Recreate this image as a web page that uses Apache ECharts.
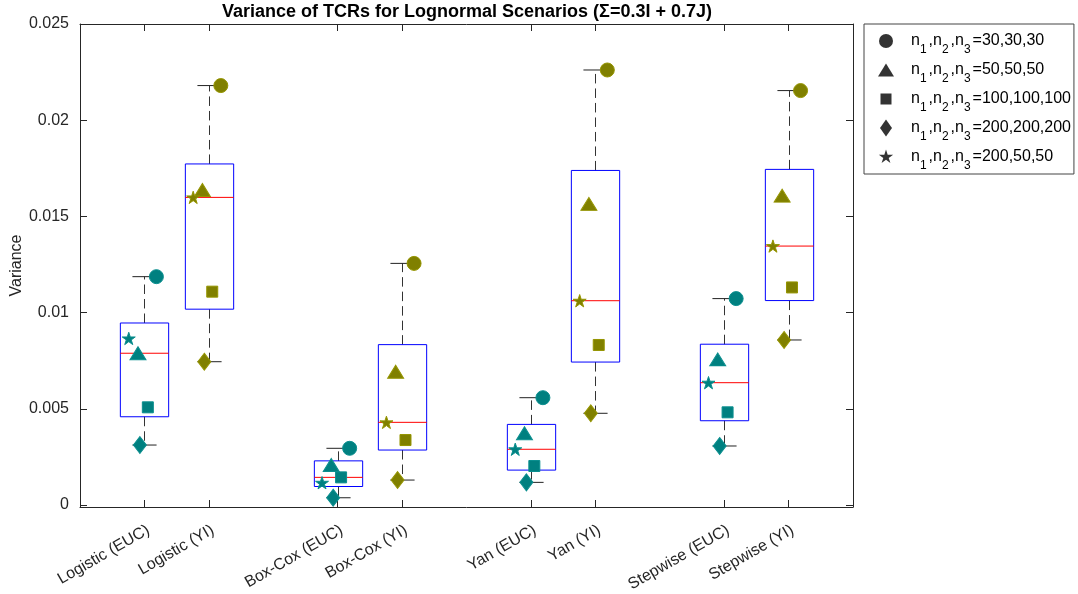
<!DOCTYPE html>
<html>
<head>
<meta charset="utf-8">
<title>Variance of TCRs</title>
<script src="https://cdn.jsdelivr.net/npm/echarts@6/dist/echarts.min.js"></script>
<style>
    html, body { margin: 0; padding: 0; background: #fff; }
    #main { width: 1078px; height: 594px; }
</style>
</head>
<body>
<div id="main"></div>
<script>
var categories = ['Logistic (EUC)', 'Logistic (YI)', 'Box-Cox (EUC)', 'Box-Cox (YI)',
    'Yan (EUC)', 'Yan (YI)', 'Stepwise (EUC)', 'Stepwise (YI)'];
var groupPos = [1, 2, 4, 5, 7, 8, 10, 11];
var yTicks = [0, 0.005, 0.01, 0.015, 0.02, 0.025];

// variance per method, one array per sample-size scenario
var n30 = [0.01187, 0.02180, 0.00295, 0.01256, 0.00558, 0.02261, 0.01073, 0.02154];
var n50 = [0.00789, 0.01637, 0.00208, 0.00693, 0.00373, 0.01565, 0.00757, 0.01608];
var n100 = [0.00508, 0.01109, 0.00144, 0.00338, 0.00203, 0.00832, 0.00482, 0.01131];
var n200 = [0.00312, 0.00745, 0.00038, 0.00130, 0.00118, 0.00477, 0.00307, 0.00858];
var n200x50 = [0.00866, 0.01599, 0.00116, 0.00430, 0.00290, 0.01062, 0.00636, 0.01346];

var scenarioLabels = ['30,30,30', '50,50,50', '100,100,100', '200,200,200', '200,50,50'];
var scenarioValues = [n30, n50, n100, n200, n200x50];

var chartDom = document.getElementById('main');
var myChart = echarts.init(chartDom);
var option;

var FONT = 'Liberation Sans, Arial, Helvetica, sans-serif';
var tealColor = '#008080';
var oliveColor = '#808000';

// marker look, in scenario order
var symbols = ['circle', 'triangle', 'rect', 'diamond',
    'path://M50 0 L61.17 34.63 L97.55 34.55 L68.07 55.87 L79.39 90.45 L50 69 L20.61 90.45 L31.93 55.87 L2.45 34.55 L38.83 34.63 Z'];
var symbolSizes = [14, [16, 13], 11, [13, 17], 13];
var xOffsets = [0.186, -0.10, 0.053, -0.07, -0.243];
var legendIcons = [
    'path://M0 0 M16 18 M1 9 A7 7 0 1 0 15 9 A7 7 0 1 0 1 9 Z',
    'path://M0 0 M16 18 M8 2.5 L16 15.5 L0 15.5 Z',
    'path://M0 0 M16 18 M2.5 3.5 L13.5 3.5 L13.5 14.5 L2.5 14.5 Z',
    'path://M0 0 M16 18 M8 0.5 L14 9 L8 17.5 L2 9 Z',
    'path://M0 0 M16 18 M8 1.5 L9.68 6.7 L15.13 6.68 L10.71 9.88 L12.41 15.07 L8 11.85 L3.59 15.07 L5.29 9.88 L0.87 6.68 L6.32 6.7 Z'
];

// MATLAB-style percentile on sorted values
function prctile(sorted, p) {
    var n = sorted.length;
    var r = p * n + 0.5;
    if (r <= 1) return sorted[0];
    if (r >= n) return sorted[n - 1];
    var lo = Math.floor(r);
    return sorted[lo - 1] + (r - lo) * (sorted[lo] - sorted[lo - 1]);
}

var boxData = groupPos.map(function (pos, i) {
    var vals = scenarioValues.map(function (arr) { return arr[i]; }).sort(function (a, b) { return a - b; });
    return [pos, vals[0], prctile(vals, 0.25), prctile(vals, 0.5), prctile(vals, 0.75), vals[vals.length - 1]];
});

function renderBox(params, api) {
    var x = api.value(0);
    var lo = api.coord([x, api.value(1)]);
    var q1 = api.coord([x, api.value(2)]);
    var md = api.coord([x, api.value(3)]);
    var q3 = api.coord([x, api.value(4)]);
    var hi = api.coord([x, api.value(5)]);
    var halfW = api.size([0.75, 0])[0] / 2;
    var capW = halfW / 2;
    var cx = Math.round(lo[0]) + 0.5;
    var dashStyle = { stroke: '#333', lineWidth: 1, lineDash: [9.5, 5] };
    var capStyle = { stroke: '#222', lineWidth: 1 };
    return {
        type: 'group',
        children: [
            { type: 'line', shape: { x1: cx, y1: q3[1], x2: cx, y2: hi[1] }, style: dashStyle },
            { type: 'line', shape: { x1: cx, y1: q1[1], x2: cx, y2: lo[1] }, style: dashStyle },
            { type: 'line', shape: { x1: cx - capW, y1: hi[1], x2: cx + capW, y2: hi[1] }, style: capStyle },
            { type: 'line', shape: { x1: cx - capW, y1: lo[1], x2: cx + capW, y2: lo[1] }, style: capStyle },
            { type: 'rect', shape: { x: cx - halfW, y: q3[1], width: 2 * halfW, height: q1[1] - q3[1] },
              style: { fill: 'none', stroke: '#0000ff', lineWidth: 1 } },
            { type: 'line', shape: { x1: cx - halfW, y1: md[1], x2: cx + halfW, y2: md[1] },
              style: { stroke: '#ff0000', lineWidth: 1 } }
        ]
    };
}

var seriesList = [{
    type: 'custom',
    name: 'box',
    renderItem: renderBox,
    data: boxData,
    encode: { x: 0, y: [1, 2, 3, 4, 5] },
    silent: true,
    z: 1
}];

scenarioValues.forEach(function (vals, k) {
    seriesList.push({
        type: 'scatter',
        name: 'n1,n2,n3=' + scenarioLabels[k],
        symbol: symbols[k],
        symbolSize: symbolSizes[k],
        symbolKeepAspect: true,
        z: 3,
        data: vals.map(function (v, i) {
            var isEuc = i % 2 === 0;
            return {
                value: [groupPos[i] + xOffsets[k], v],
                itemStyle: {
                    color: isEuc ? tealColor : oliveColor,
                    borderColor: isEuc ? '#0b8f8f' : '#959500',
                    borderWidth: 1,
                    opacity: 1
                }
            };
        })
    });
});

var axisColor = '#262626';

option = {
    animation: false,
    backgroundColor: '#fff',
    textStyle: { fontFamily: FONT },
    graphic: [{
        type: 'text',
        x: 467,
        y: 3,
        style: {
            text: 'Variance of TCRs for Lognormal Scenarios (\u03A3=0.3I + 0.7J)',
            fontFamily: FONT,
            fontSize: 18,
            fontWeight: 'bold',
            fill: '#000',
            textAlign: 'center'
        }
    }],
    grid: { left: 80, right: 225, top: 24, bottom: 87, outerBoundsMode: 'none', containLabel: false },
    legend: {
        orient: 'vertical',
        left: 864,
        top: 24,
        padding: [2, 3, 2, 14],
        itemGap: -1,
        itemWidth: 16,
        itemHeight: 18,
        borderColor: '#444',
        borderWidth: 1,
        selectedMode: false,
        data: scenarioLabels.map(function (lab, k) {
            return { name: 'n1,n2,n3=' + lab, icon: legendIcons[k], itemStyle: { color: '#000', borderWidth: 0 } };
        }),
        formatter: function (name) {
            var rest = name.split('=')[1];
            return '{f|n}{s|1}{t|,n}{s|2}{t|,n}{s|3}{t|=' + rest + '}';
        },
        textStyle: {
            fontFamily: FONT,
            rich: {
                f: { fontFamily: FONT, fontSize: 16, color: '#000', lineHeight: 16, padding: [6, 0, 7, 12] },
                t: { fontFamily: FONT, fontSize: 16, color: '#000', lineHeight: 16, padding: [6, 0, 7, 0] },
                s: { fontFamily: FONT, fontSize: 12, color: '#000', lineHeight: 11, padding: [18, 2, 0, 0] }
            }
        }
    },
    xAxis: [{
        type: 'value',
        min: 0,
        max: 12,
        splitLine: { show: false },
        axisLine: { show: true, onZero: false, lineStyle: { color: axisColor } },
        axisTick: { show: true, inside: true, length: 7, customValues: groupPos, lineStyle: { color: axisColor } },
        axisLabel: {
            customValues: groupPos,
            rotate: 30,
            margin: 15,
            verticalAlign: 'top',
            fontSize: 16,
            fontFamily: FONT,
            color: axisColor,
            formatter: function (v) {
                var idx = groupPos.indexOf(Math.round(v));
                return idx >= 0 ? categories[idx] : '';
            }
        }
    }, {
        type: 'value',
        position: 'top',
        min: 0,
        max: 12,
        splitLine: { show: false },
        axisLine: { show: true, onZero: false, lineStyle: { color: axisColor } },
        axisTick: { show: true, inside: true, length: 7, customValues: groupPos, lineStyle: { color: axisColor } },
        axisLabel: { show: false }
    }],
    yAxis: [{
        type: 'value',
        min: -0.0001,
        max: 0.025,
        name: 'Variance',
        nameLocation: 'middle',
        nameGap: 55,
        nameMoveOverlap: false,
        nameTextStyle: { fontSize: 16, fontFamily: FONT, color: axisColor },
        splitLine: { show: false },
        axisLine: { show: true, onZero: false, lineStyle: { color: axisColor } },
        axisTick: { show: true, inside: true, length: 7, customValues: yTicks, lineStyle: { color: axisColor } },
        axisLabel: {
            customValues: yTicks,
            margin: 11,
            fontSize: 16,
            fontFamily: FONT,
            color: axisColor,
            formatter: function (v) { return String(+v.toFixed(3)); }
        }
    }, {
        type: 'value',
        position: 'right',
        min: -0.0001,
        max: 0.025,
        splitLine: { show: false },
        axisLine: { show: true, onZero: false, lineStyle: { color: axisColor } },
        axisTick: { show: true, inside: true, length: 7, customValues: yTicks, lineStyle: { color: axisColor } },
        axisLabel: { show: false }
    }],
    series: seriesList
};

option && myChart.setOption(option);

window.addEventListener('resize', function () {
    myChart.resize();
});
</script>
</body>
</html>
